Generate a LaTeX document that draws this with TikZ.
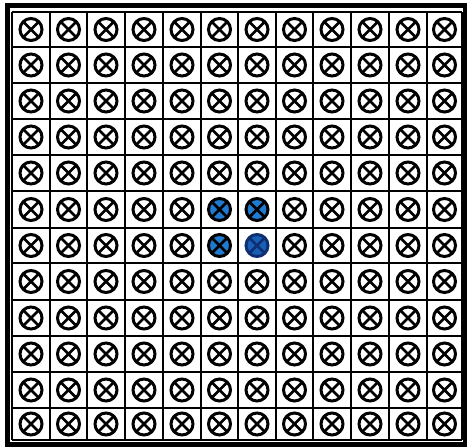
\documentclass[tikz,border=0pt]{standalone}
\definecolor{cellblue}{HTML}{1F7AD2}
\definecolor{deepblue}{HTML}{1660B8}
\definecolor{navyline}{HTML}{0F2F70}
\begin{document}
\begin{tikzpicture}[x=1pt,y=-1pt,
  sens/.style={circle, draw=#1, line width=3pt, minimum size=22pt, inner sep=0pt, fill=white,
    path picture={\draw[line width=2.6pt,draw=#1]
      (path picture bounding box.north west) -- (path picture bounding box.south east)
      (path picture bounding box.north east) -- (path picture bounding box.south west);}},
  sens/.default=black,
  gridline/.style={line width=1.1pt, draw=black},
  frame/.style={line width=5pt, draw=black}]
\useasboundingbox (0,0) rectangle (467,448);
% outer frame
\draw[frame] (7.5,5.5) rectangle (465,444.5);
% grid
\foreach \x in {12,50,87,125,163,201,238,276,313,351,389,427,462}
  \draw[gridline] (\x,12) -- (\x,440);
\foreach \y in {12,47,83,119,155,191,228,263,300,336,372,408,440}
  \draw[gridline] (12,\y) -- (462,\y);
% sensors
\foreach \cx [count=\i] in {31,68.5,106,144,182,219.5,257,294.5,332,370,408,444.5}{
  \foreach \cy [count=\j] in {29.5,65,101,137,173,209.5,245.5,281.5,318,354,390,424}{
    \pgfmathtruncatemacro\kind{(\i>5)*(\i<8)*(\j>5)*(\j<8)*(1+(\i==7)*(\j==7))}
    \ifcase\kind
      \node[sens] (c-\i-\j) at (\cx,\cy) {};
    \or
      \node[sens, fill=cellblue] (c-\i-\j) at (\cx,\cy) {};
    \or
      \node[sens=navyline, fill=deepblue] (c-\i-\j) at (\cx,\cy) {};
    \fi
  }
}
\end{tikzpicture}
\end{document}
